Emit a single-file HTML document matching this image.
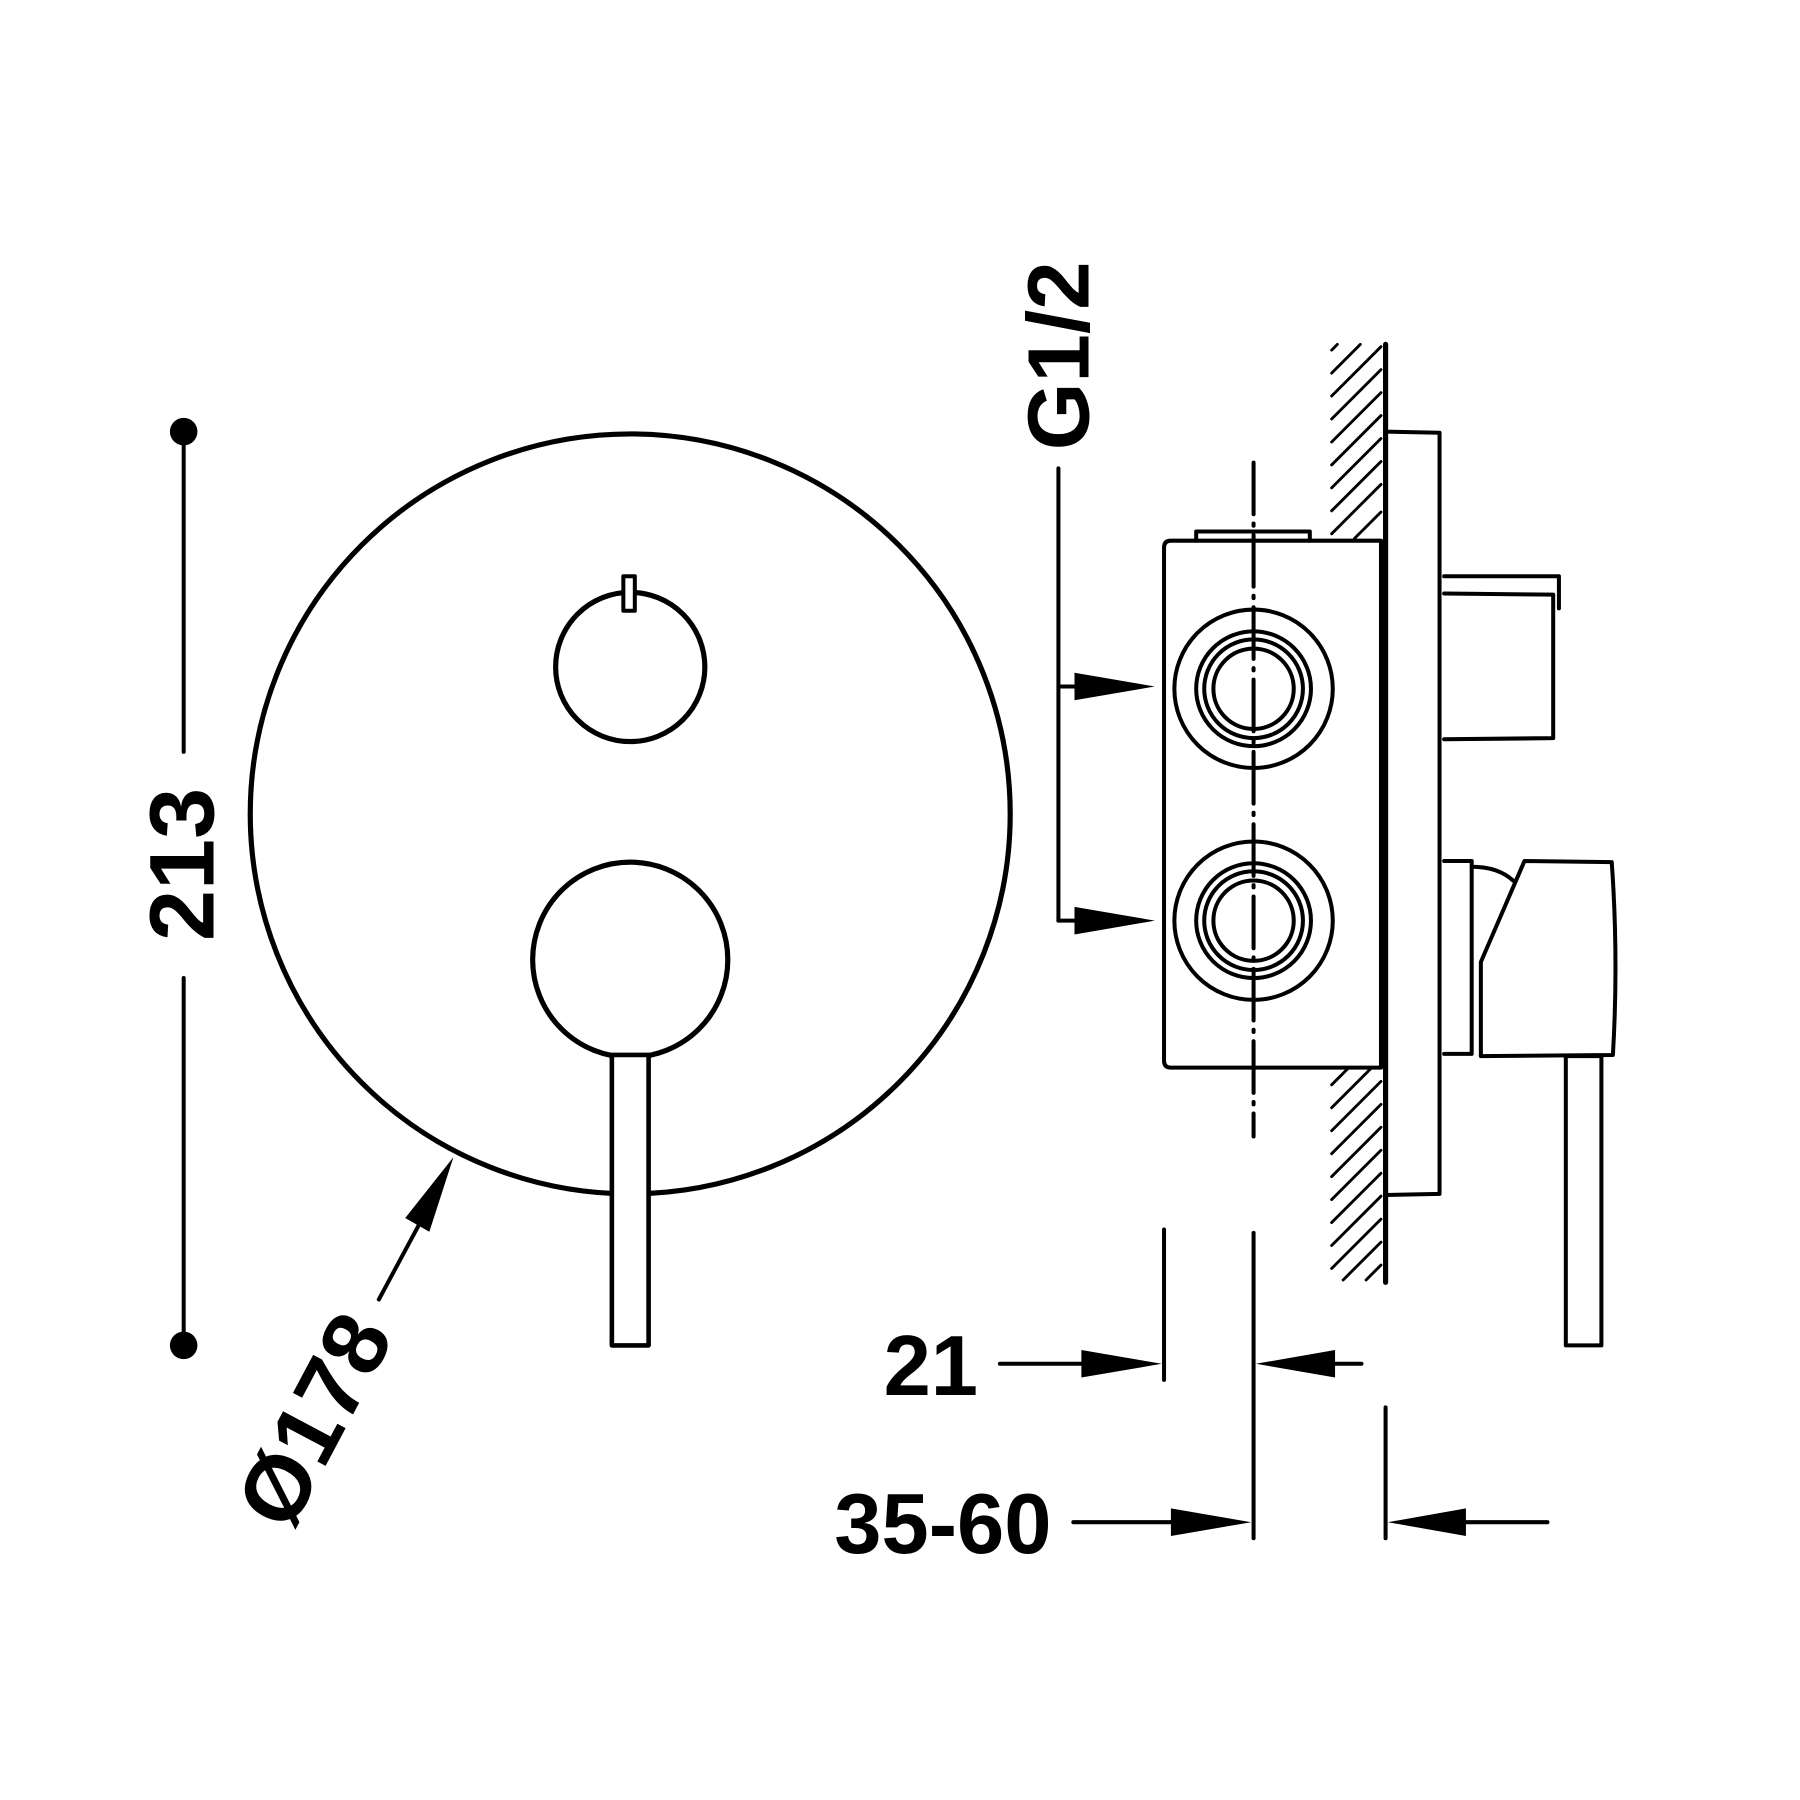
<!DOCTYPE html>
<html><head><meta charset="utf-8"><style>html,body{margin:0;padding:0;background:#fff}svg{display:block}</style></head>
<body>
<svg width="1800" height="1800" viewBox="0 0 1568 1568" xmlns="http://www.w3.org/2000/svg">
<g fill="none" stroke="#000" stroke-width="3.5" stroke-linecap="round" stroke-linejoin="round">
<line x1="160" y1="376" x2="160" y2="655"/>
<line x1="160" y1="852" x2="160" y2="1172"/>
<circle cx="549" cy="709" r="331" stroke-width="4.5"/>
<circle cx="549" cy="581" r="65" stroke-width="4.5"/>
<rect x="543" y="502" width="10" height="30" fill="#fff"/>
<circle cx="549" cy="836" r="85" stroke-width="4.5"/>
<rect x="533" y="919" width="32" height="253" fill="#fff" stroke-width="4"/>
<line x1="330" y1="1132" x2="366" y2="1065"/>
<line x1="922" y1="408" x2="922" y2="802"/>
<line x1="922" y1="598" x2="940" y2="598"/>
<line x1="922" y1="802" x2="940" y2="802"/>
<path d="M1020 471 H1203 V930 H1020 Q1014 930 1014 924 V477 Q1014 471 1020 471 Z"/>
<path d="M1042 471 V463 H1141 V471"/>
<circle cx="1092" cy="600" r="69"/><circle cx="1092" cy="600" r="50"/><circle cx="1092" cy="600" r="43"/><circle cx="1092" cy="600" r="35"/>
<circle cx="1092" cy="802" r="69"/><circle cx="1092" cy="802" r="50"/><circle cx="1092" cy="802" r="43"/><circle cx="1092" cy="802" r="35"/>
<line x1="1092" y1="403" x2="1092" y2="990" stroke-dasharray="45,8,2,8"/>
<line x1="1207" y1="300" x2="1207" y2="1117" stroke-width="4.5"/>
<g stroke-width="2.5">
<line x1="1160" y1="305" x2="1165" y2="300"/>
<line x1="1160" y1="325" x2="1185" y2="300"/>
<line x1="1160" y1="345" x2="1203" y2="302"/>
<line x1="1160" y1="365" x2="1203" y2="322"/>
<line x1="1160" y1="385" x2="1203" y2="342"/>
<line x1="1160" y1="405" x2="1203" y2="362"/>
<line x1="1160" y1="425" x2="1203" y2="382"/>
<line x1="1160" y1="445" x2="1203" y2="402"/>
<line x1="1160" y1="465" x2="1203" y2="422"/>
<line x1="1180" y1="469" x2="1203" y2="446"/>
<line x1="1160" y1="945" x2="1175" y2="930"/>
<line x1="1160" y1="965" x2="1195" y2="930"/>
<line x1="1160" y1="985" x2="1203" y2="942"/>
<line x1="1160" y1="1005" x2="1203" y2="962"/>
<line x1="1160" y1="1025" x2="1203" y2="982"/>
<line x1="1160" y1="1045" x2="1203" y2="1002"/>
<line x1="1160" y1="1065" x2="1203" y2="1022"/>
<line x1="1160" y1="1085" x2="1203" y2="1042"/>
<line x1="1160" y1="1105" x2="1203" y2="1062"/>
<line x1="1170" y1="1115" x2="1203" y2="1082"/>
<line x1="1190" y1="1115" x2="1203" y2="1102"/>
</g>
<path d="M1207 376 L1254 377 V1040 L1207 1041"/>
<path d="M1258 502 H1358 V530 M1258 517 L1353 518 V643 L1258 644"/>
<path d="M1258 750 H1282 V918 H1258"/>
<path d="M1282 755 Q1305 755 1318 767"/>
<path d="M1290 838 L1328 750 L1404 751 Q1410 835 1405 919 L1290 920 Z"/>
<rect x="1364" y="920" width="31" height="252"/>
<line x1="871" y1="1188" x2="945" y2="1188"/>
<line x1="1014" y1="1071" x2="1014" y2="1202"/>
<line x1="1092" y1="1074" x2="1092" y2="1340"/>
<line x1="1160" y1="1188" x2="1186" y2="1188"/>
<line x1="935" y1="1326" x2="1022" y2="1326"/>
<line x1="1207" y1="1226" x2="1207" y2="1340"/>
<line x1="1275" y1="1326" x2="1348" y2="1326"/>
</g>
<g fill="#000">
<circle cx="160" cy="376" r="12"/><circle cx="160" cy="1172" r="12"/>
<polygon points="395,1008 374,1073 353,1061"/>
<polygon points="1006,598 936,586 936,610"/>
<polygon points="1006,802 936,790 936,814"/>
<polygon points="1012,1188 942,1176 942,1200"/>
<polygon points="1094,1188 1163,1176 1163,1200"/>
<polygon points="1090,1326 1020,1314 1020,1338"/>
<polygon points="1209,1326 1277,1314 1277,1338"/>
</g>
<g font-family="Liberation Sans, sans-serif" font-weight="bold" fill="#000">
<text x="0" y="0" font-size="80" text-anchor="middle" transform="translate(186 753) rotate(-90)">213</text>
<text x="0" y="0" font-size="76" text-anchor="middle" transform="translate(948 310) rotate(-90)">G1/2</text>
<text x="0" y="0" font-size="80" text-anchor="middle" transform="translate(298 1250) rotate(-62)">Ø178</text>
<text x="852" y="1215" font-size="74" text-anchor="end">21</text>
<text x="916" y="1353" font-size="74" text-anchor="end">35-60</text>
</g>
</svg>
</body></html>
